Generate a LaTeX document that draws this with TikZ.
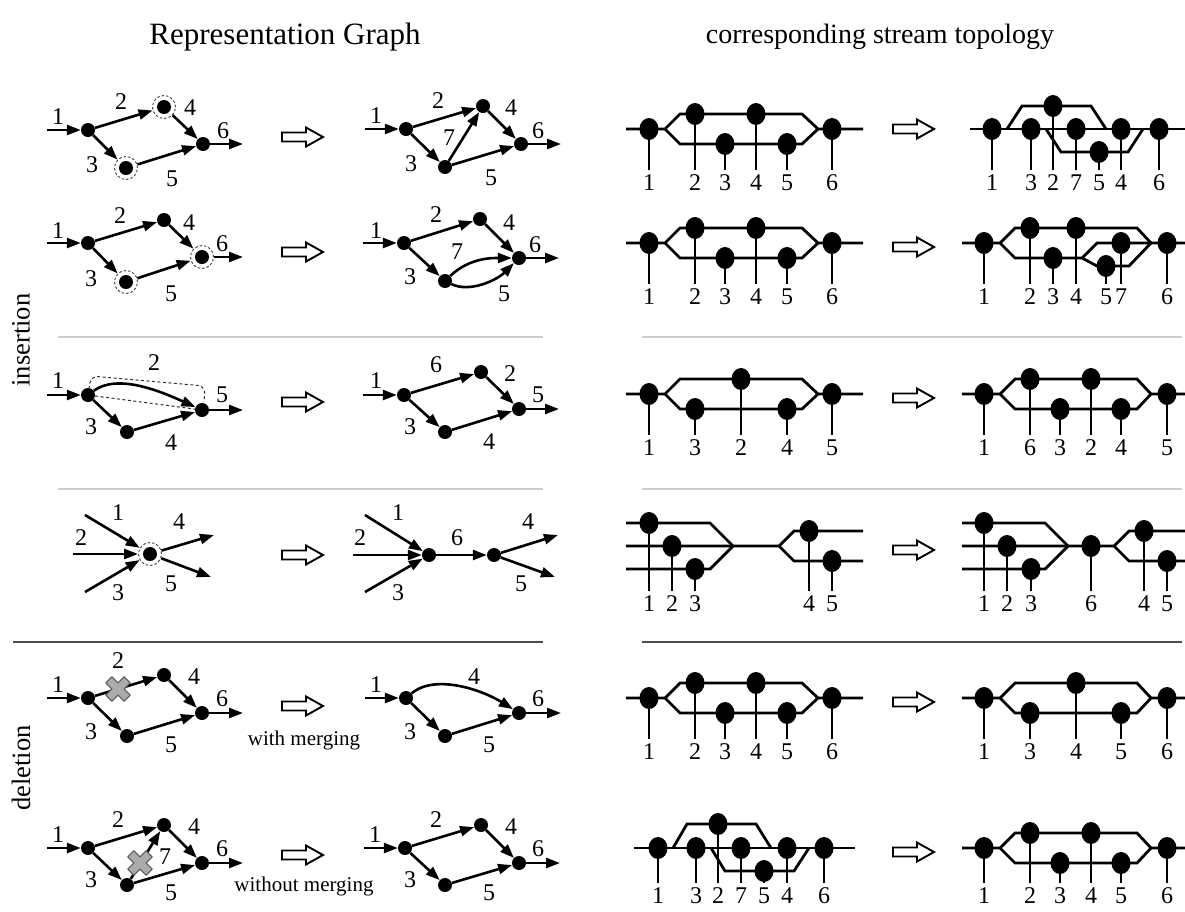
\documentclass[tikz,border=0pt]{standalone}
\usepackage{fontspec}
\setmainfont{Liberation Serif}
\usetikzlibrary{arrows.meta,shapes.geometric}
\tikzset{
 gn/.style={circle,fill=black,inner sep=0pt,minimum size=14pt},
 dc/.style={circle,draw=black!75,dash pattern=on 2.5pt off 2pt,line width=0.9pt,minimum size=23pt,inner sep=0pt},
 ge/.style={line width=2.6pt,-{Triangle[length=14pt,width=10pt]}},
 gl/.style={font=\fontsize{24}{24}\selectfont,inner sep=0pt,text height=16pt,text depth=0pt},
 sn/.style={ellipse,fill=black,inner sep=0pt,minimum width=19pt,minimum height=22pt},
 strm/.style={line width=2.8pt},
 vl/.style={line width=1.2pt,shorten >=4pt},
 slab/.style={font=\fontsize{24}{24}\selectfont,inner sep=0pt,text height=16pt,text depth=0pt,anchor=north},
 hollow/.style={line width=1.9pt,line join=miter,fill=white},
 sepl/.style={line width=2pt,draw=black!20},
 sepd/.style={line width=1.6pt,draw=black!70},
 xm/.style={fill=black!33,draw=black!65,line width=1.1pt,line join=round},
 ttla/.style={font=\fontsize{31}{31}\selectfont},
 ttlb/.style={font=\fontsize{28}{28}\selectfont},
 side/.style={font=\fontsize{26.5}{26.5}\selectfont,rotate=90},
 note/.style={font=\fontsize{21}{21}\selectfont},
 dashln/.style={line width=1pt,dash pattern=on 3pt off 2.5pt,draw=black!80}
}
\newcommand\harr[2]{\draw[hollow,shift={(#1,#2)}] (-20,-4.5) -- (4,-4.5) -- (4,-9.5) -- (21,0) -- (4,9.5) -- (4,4.5) -- (-20,4.5) -- cycle;}
\newcommand\xmk[2]{\draw[xm,shift={(#1,#2)},rotate=45] (-4.3,-13) -- (4.3,-13) -- (4.3,-4.3) -- (13,-4.3) -- (13,4.3) -- (4.3,4.3) -- (4.3,13) -- (-4.3,13) -- (-4.3,4.3) -- (-13,4.3) -- (-13,-4.3) -- (-4.3,-4.3) -- cycle;}
% name, x, y, label, line-end y (label top sits 5pt lower)
\newcommand\snd[5]{\node[sn] (#1) at (#2,#3) {}; \node[slab] (#1l) at (#2,#5+5) {#4}; \draw[vl] (#1) -- (#1l);}
\begin{document}
\begin{tikzpicture}[x=1pt,y=-1pt]
\fill[white] (0,0) rectangle (1185,911);
\path[use as bounding box] (0,0) rectangle (1185,911);

\node[ttla] (t1) at (285,37) {Representation Graph};
\node[ttlb] (t2) at (880,37) {corresponding stream topology};
\node[side] (s1) at (21,340) {insertion};
\node[side] (s2) at (21,768) {deletion};

\draw[sepl] (58,337) -- (543,337); \draw[sepl] (642,337) -- (1182,337);
\draw[sepl] (58,489) -- (543,489); \draw[sepl] (642,489) -- (1182,489);
\draw[sepd] (13,642) -- (543,642); \draw[sepd] (642,642) -- (1182,642);

\harr{302}{137} \harr{302}{252} \harr{302}{402} \harr{302}{555} \harr{302}{706} \harr{302}{855}
\harr{913}{129} \harr{913}{247} \harr{913}{398} \harr{913}{550} \harr{913}{702} \harr{913}{852}

% ---------- Row 1 left
\begin{scope}[shift={(88,130)},name prefix=ga-]
 \node[gn] (A) at (0,0) {};
 \node[gn] (B) at (76,-23) {}; \node[dc] (Bd) at (76,-23) {};
 \node[gn] (C) at (38,38) {}; \node[dc] (Cd) at (38,38) {};
 \node[gn] (D) at (115,14) {};
 \coordinate (in) at (-41,0); \coordinate (out) at (155,14);
 \draw[ge] (in) -- (A); \draw[ge] (A) -- (Bd); \draw[ge] (A) -- (Cd);
 \draw[ge] (Bd) -- (D); \draw[ge] (Cd) -- (D); \draw[ge] (D) -- (out);
 \node[gl] (l1) at (-30,-14) {1}; \node[gl] (l2) at (33,-29) {2};
 \node[gl] (l4) at (102,-23) {4}; \node[gl] (l3) at (4,34) {3};
 \node[gl] (l5) at (84,48) {5}; \node[gl] (l6) at (135,0) {6};
\end{scope}
% ---------- Row 1 right
\begin{scope}[shift={(406,129)},name prefix=gb-]
 \node[gn] (A) at (0,0) {}; \node[gn] (B) at (77,-23) {};
 \node[gn] (C) at (39,38) {}; \node[gn] (D) at (115,15) {};
 \coordinate (in) at (-41,0); \coordinate (out) at (155,15);
 \draw[ge] (in) -- (A); \draw[ge] (A) -- (B); \draw[ge] (A) -- (C);
 \draw[ge] (C) -- (B); \draw[ge] (C) -- (D); \draw[ge] (B) -- (D); \draw[ge] (D) -- (out);
 \node[gl] (l1) at (-30,-14) {1}; \node[gl] (l2) at (32,-29) {2};
 \node[gl] (l4) at (105,-22) {4}; \node[gl] (l3) at (5,34) {3};
 \node[gl] (l7) at (43,8) {7}; \node[gl] (l5) at (85,48) {5};
 \node[gl] (l6) at (132,1) {6};
\end{scope}
% ---------- Row 2 left
\begin{scope}[shift={(88,243)},name prefix=gc-]
 \node[gn] (A) at (0,0) {}; \node[gn] (B) at (76,-23) {};
 \node[gn] (C) at (38,39) {}; \node[dc] (Cd) at (38,39) {};
 \node[gn] (D) at (114,14) {}; \node[dc] (Dd) at (114,14) {};
 \coordinate (in) at (-41,0); \coordinate (out) at (155,14);
 \draw[ge] (in) -- (A); \draw[ge] (A) -- (B); \draw[ge] (A) -- (Cd);
 \draw[ge] (B) -- (Dd); \draw[ge] (Cd) -- (Dd); \draw[ge] (Dd) -- (out);
 \node[gl] (l1) at (-30,-13) {1}; \node[gl] (l2) at (32,-28) {2};
 \node[gl] (l4) at (101,-21) {4}; \node[gl] (l3) at (3,35) {3};
 \node[gl] (l5) at (83,50) {5}; \node[gl] (l6) at (134,0) {6};
\end{scope}
% ---------- Row 2 right
\begin{scope}[shift={(404,243)},name prefix=gd-]
 \node[gn] (A) at (0,0) {}; \node[gn] (B) at (76,-24) {};
 \node[gn] (C) at (41,38) {}; \node[gn] (D) at (115,15) {};
 \coordinate (in) at (-41,0); \coordinate (out) at (155,15);
 \draw[ge] (in) -- (A); \draw[ge] (A) -- (B); \draw[ge] (A) -- (C);
 \draw[ge] (B) -- (D);
 \draw[ge] (C) .. controls +(25,-24) and +(-25,0) .. (D);
 \draw[ge] (C) .. controls +(25,12) and +(-22,22) .. (D);
 \draw[ge] (D) -- (out);
 \node[gl] (l1) at (-28,-13) {1}; \node[gl] (l2) at (32,-29) {2};
 \node[gl] (l4) at (105,-21) {4}; \node[gl] (l3) at (6,33) {3};
 \node[gl] (l7) at (53,8) {7}; \node[gl] (l5) at (100,50) {5};
 \node[gl] (l6) at (131,1) {6};
\end{scope}
% ---------- Row 3 left
\begin{scope}[shift={(88,395)},name prefix=ge-]
 \node[gn] (A) at (0,0) {}; \node[gn] (C) at (39,37) {}; \node[gn] (D) at (114,15) {};
 \coordinate (in) at (-41,0); \coordinate (out) at (155,15);
 \draw[dashln,rounded corners=7pt] (1,-6) -- (3,-19) -- (117,-9) -- (116,7);
 \draw[dashln] (A) -- (D);
 \draw[ge] (in) -- (A); \draw[ge] (A) -- (C); \draw[ge] (C) -- (D); \draw[ge] (D) -- (out);
 \draw[ge] (A) .. controls +(30,-22) and +(-40,-18) .. (D);
 \node[gl] (l1) at (-30,-15) {1}; \node[gl] (l2) at (66,-33) {2};
 \node[gl] (l3) at (3,31) {3}; \node[gl] (l4) at (83,47) {4};
 \node[gl] (l5) at (134,-1) {5};
\end{scope}
% ---------- Row 3 right
\begin{scope}[shift={(404,395)},name prefix=gf-]
 \node[gn] (A) at (0,0) {}; \node[gn] (B) at (77,-23) {};
 \node[gn] (C) at (41,37) {}; \node[gn] (D) at (115,14) {};
 \coordinate (in) at (-41,0); \coordinate (out) at (155,14);
 \draw[ge] (in) -- (A); \draw[ge] (A) -- (B); \draw[ge] (A) -- (C);
 \draw[ge] (B) -- (D); \draw[ge] (C) -- (D); \draw[ge] (D) -- (out);
 \node[gl] (l1) at (-28,-15) {1}; \node[gl] (l6) at (32,-31) {6};
 \node[gl] (l2) at (106,-22) {2}; \node[gl] (l3) at (6,31) {3};
 \node[gl] (l4) at (85,46) {4}; \node[gl] (l5) at (134,-1) {5};
\end{scope}
% ---------- Row 4 left
\begin{scope}[name prefix=gg-]
 \node[gn] (N) at (150,554) {}; \node[dc] (Nd) at (150,554) {};
 \coordinate (i1) at (85,515); \coordinate (i2) at (73,554); \coordinate (i3) at (85,592);
 \coordinate (o4) at (214,535); \coordinate (o5) at (211,577);
 \draw[ge] (i1) -- (Nd); \draw[ge] (i2) -- (Nd); \draw[ge] (i3) -- (Nd);
 \draw[ge] (Nd) -- (o4); \draw[ge] (Nd) -- (o5);
 \node[gl] (l1) at (118,512) {1}; \node[gl] (l2) at (81,537) {2};
 \node[gl] (l3) at (118,592) {3}; \node[gl] (l4) at (179,521) {4};
 \node[gl] (l5) at (171,583) {5};
\end{scope}
% ---------- Row 4 right
\begin{scope}[name prefix=gh-]
 \node[gn] (N1) at (429,555) {}; \node[gn] (N2) at (494,555) {};
 \coordinate (i1) at (365,515); \coordinate (i2) at (353,555); \coordinate (i3) at (365,592);
 \coordinate (o4) at (558,535); \coordinate (o5) at (555,577);
 \draw[ge] (i1) -- (N1); \draw[ge] (i2) -- (N1); \draw[ge] (i3) -- (N1);
 \draw[ge] (N1) -- (N2);
 \draw[ge] (N2) -- (o4); \draw[ge] (N2) -- (o5);
 \node[gl] (l1) at (398,512) {1}; \node[gl] (l2) at (360,537) {2};
 \node[gl] (l3) at (398,592) {3}; \node[gl] (l6) at (457,537) {6};
 \node[gl] (l4) at (528,521) {4}; \node[gl] (l5) at (521,583) {5};
\end{scope}
% ---------- Row 5 left
\begin{scope}[shift={(88,698)},name prefix=gi-]
 \node[gn] (A) at (0,0) {}; \node[gn] (B) at (76,-23) {};
 \node[gn] (C) at (39,38) {}; \node[gn] (D) at (114,15) {};
 \coordinate (in) at (-41,0); \coordinate (out) at (155,15);
 \draw[ge] (in) -- (A); \draw[ge] (A) -- (B); \draw[ge] (A) -- (C);
 \draw[ge] (B) -- (D); \draw[ge] (C) -- (D); \draw[ge] (D) -- (out);
 \xmk{30}{-9}
 \node[gl] (l1) at (-30,-14) {1}; \node[gl] (l2) at (30,-38) {2};
 \node[gl] (l4) at (106,-22) {4}; \node[gl] (l3) at (3,33) {3};
 \node[gl] (l5) at (83,46) {5}; \node[gl] (l6) at (134,0) {6};
\end{scope}
\node[note] (wm) at (304,740) {with merging};
% ---------- Row 5 right
\begin{scope}[shift={(406,698)},name prefix=gj-]
 \node[gn] (A) at (0,0) {}; \node[gn] (C) at (39,38) {}; \node[gn] (D) at (113,15) {};
 \coordinate (in) at (-41,0); \coordinate (out) at (155,15);
 \draw[ge] (in) -- (A); \draw[ge] (A) -- (C); \draw[ge] (C) -- (D); \draw[ge] (D) -- (out);
 \draw[ge] (A) .. controls +(30,-25) and +(-35,-22) .. (D);
 \node[gl] (l1) at (-30,-14) {1}; \node[gl] (l4) at (68,-22) {4};
 \node[gl] (l3) at (4,33) {3}; \node[gl] (l5) at (83,46) {5};
 \node[gl] (l6) at (132,0) {6};
\end{scope}
% ---------- Row 6 left
\begin{scope}[shift={(88,848)},name prefix=gk-]
 \node[gn] (A) at (0,0) {}; \node[gn] (B) at (76,-23) {};
 \node[gn] (C) at (39,37) {}; \node[gn] (D) at (114,15) {};
 \coordinate (in) at (-41,0); \coordinate (out) at (155,15);
 \draw[ge] (in) -- (A); \draw[ge] (A) -- (B); \draw[ge] (A) -- (C);
 \draw[ge] (C) -- (B); \draw[ge] (B) -- (D); \draw[ge] (C) -- (D); \draw[ge] (D) -- (out);
 \xmk{52}{15}
 \node[gl] (l1) at (-30,-14) {1}; \node[gl] (l2) at (30,-29) {2};
 \node[gl] (l4) at (106,-22) {4}; \node[gl] (l3) at (3,31) {3};
 \node[gl] (l7) at (77,8) {7}; \node[gl] (l5) at (83,44) {5};
 \node[gl] (l6) at (134,0) {6};
\end{scope}
\node[note] (wom) at (304,886) {without merging};
% ---------- Row 6 right
\begin{scope}[shift={(405,848)},name prefix=gl-]
 \node[gn] (A) at (0,0) {}; \node[gn] (B) at (76,-23) {};
 \node[gn] (C) at (40,37) {}; \node[gn] (D) at (114,15) {};
 \coordinate (in) at (-41,0); \coordinate (out) at (155,15);
 \draw[ge] (in) -- (A); \draw[ge] (A) -- (B); \draw[ge] (A) -- (C);
 \draw[ge] (B) -- (D); \draw[ge] (C) -- (D); \draw[ge] (D) -- (out);
 \node[gl] (l1) at (-30,-14) {1}; \node[gl] (l2) at (31,-29) {2};
 \node[gl] (l4) at (106,-22) {4}; \node[gl] (l3) at (5,31) {3};
 \node[gl] (l5) at (84,44) {5}; \node[gl] (l6) at (133,0) {6};
\end{scope}

% ================= STREAM TOPOLOGIES
% Row 1 left
\draw[strm] (626,129) -- (665,129) -- (680,114) -- (802,114) -- (818,129) -- (863,129);
\draw[strm] (665,129) -- (680,144) -- (802,144) -- (818,129);
\snd{sa1}{649}{129}{1}{169} \snd{sa2}{695}{114}{2}{169} \snd{sa3}{725}{144}{3}{169}
\snd{sa4}{756}{114}{4}{169} \snd{sa5}{787}{144}{5}{169} \snd{sa6}{832}{129}{6}{169}
% Row 1 right
\draw[strm] (970,129) -- (1185,129);
\draw[strm] (1007,129) -- (1022,106) -- (1091,106) -- (1106,129);
\draw[strm] (1046,129) -- (1061,152) -- (1128,152) -- (1143,129);
\snd{sb1}{992}{129}{1}{169} \snd{sb3}{1031}{129}{3}{169} \snd{sb2}{1053}{106}{2}{169}
\snd{sb7}{1076}{129}{7}{169} \snd{sb5}{1099}{152}{5}{169} \snd{sb4}{1121}{129}{4}{169}
\snd{sb6}{1159}{129}{6}{169}
% Row 2 left
\draw[strm] (626,243) -- (665,243) -- (680,228) -- (802,228) -- (818,243) -- (863,243);
\draw[strm] (665,243) -- (680,258) -- (802,258) -- (818,243);
\snd{sc1}{649}{243}{1}{283} \snd{sc2}{695}{228}{2}{283} \snd{sc3}{725}{258}{3}{283}
\snd{sc4}{756}{228}{4}{283} \snd{sc5}{787}{258}{5}{283} \snd{sc6}{832}{243}{6}{283}
% Row 2 right
\draw[strm] (962,243) -- (1000,243) -- (1015,228) -- (1137,228) -- (1151,243) -- (1185,243);
\draw[strm] (1000,243) -- (1015,258) -- (1082,258) -- (1097,243) -- (1151,243);
\draw[strm] (1082,258) -- (1097,266) -- (1129,266) -- (1151,243);
\snd{sd1}{984}{243}{1}{283} \snd{sd2}{1030}{228}{2}{283} \snd{sd3}{1053}{258}{3}{283}
\snd{sd4}{1076}{228}{4}{283} \snd{sd5}{1106}{266}{5}{283} \snd{sd7}{1121}{243}{7}{283}
\snd{sd6}{1167}{243}{6}{283}
% Row 3 left
\draw[strm] (626,394) -- (665,394) -- (680,379) -- (802,379) -- (818,394) -- (863,394);
\draw[strm] (665,394) -- (680,409) -- (802,409) -- (818,394);
\snd{se1}{649}{394}{1}{434} \snd{se3}{695}{409}{3}{434} \snd{se2}{741}{379}{2}{434}
\snd{se4}{787}{409}{4}{434} \snd{se5}{832}{394}{5}{434}
% Row 3 right
\draw[strm] (962,394) -- (1000,394) -- (1015,379) -- (1137,379) -- (1151,394) -- (1185,394);
\draw[strm] (1000,394) -- (1015,409) -- (1137,409) -- (1151,394);
\snd{sf1}{984}{394}{1}{434} \snd{sf6}{1030}{379}{6}{434} \snd{sf3}{1060}{409}{3}{434}
\snd{sf2}{1091}{379}{2}{434} \snd{sf4}{1121}{409}{4}{434} \snd{sf5}{1167}{394}{5}{434}
% Row 4 left
\draw[strm] (626,523) -- (710,523) -- (733,546);
\draw[strm] (626,546) -- (779,546) -- (794,531) -- (863,531);
\draw[strm] (626,569) -- (710,569) -- (733,546);
\draw[strm] (779,546) -- (794,561) -- (863,561);
\snd{sg1}{649}{523}{1}{590} \snd{sg2}{672}{546}{2}{590} \snd{sg3}{695}{569}{3}{590}
\snd{sg4}{809}{531}{4}{590} \snd{sg5}{832}{561}{5}{590}
% Row 4 right
\draw[strm] (962,523) -- (1045,523) -- (1068,546);
\draw[strm] (962,546) -- (1114,546) -- (1129,531) -- (1185,531);
\draw[strm] (962,569) -- (1045,569) -- (1068,546);
\draw[strm] (1114,546) -- (1129,561) -- (1185,561);
\snd{sh1}{984}{523}{1}{590} \snd{sh2}{1007}{546}{2}{590} \snd{sh3}{1031}{569}{3}{590}
\snd{sh6}{1091}{546}{6}{590} \snd{sh4}{1144}{531}{4}{590} \snd{sh5}{1167}{561}{5}{590}
% Row 5 left
\draw[strm] (626,698) -- (665,698) -- (680,683) -- (802,683) -- (818,698) -- (863,698);
\draw[strm] (665,698) -- (680,713) -- (802,713) -- (818,698);
\snd{si1}{649}{698}{1}{738} \snd{si2}{695}{683}{2}{738} \snd{si3}{725}{713}{3}{738}
\snd{si4}{756}{683}{4}{738} \snd{si5}{787}{713}{5}{738} \snd{si6}{832}{698}{6}{738}
% Row 5 right
\draw[strm] (962,698) -- (1000,698) -- (1015,683) -- (1137,683) -- (1151,698) -- (1185,698);
\draw[strm] (1000,698) -- (1015,713) -- (1137,713) -- (1151,698);
\snd{sj1}{984}{698}{1}{738} \snd{sj3}{1030}{713}{3}{738} \snd{sj4}{1076}{683}{4}{738}
\snd{sj5}{1121}{713}{5}{738} \snd{sj6}{1167}{698}{6}{738}
% Row 6 left
\draw[strm] (634,848) -- (855,848);
\draw[strm] (673,848) -- (687,824) -- (756,824) -- (771,848);
\draw[strm] (711,848) -- (725,871) -- (794,871) -- (809,848);
\snd{sk1}{658}{848}{1}{882} \snd{sk3}{696}{848}{3}{882} \snd{sk2}{718}{824}{2}{882}
\snd{sk7}{741}{848}{7}{882} \snd{sk5}{764}{871}{5}{882} \snd{sk4}{787}{848}{4}{882}
\snd{sk6}{824}{848}{6}{882}
% Row 6 right
\draw[strm] (962,848) -- (1000,848) -- (1015,833) -- (1137,833) -- (1151,848) -- (1185,848);
\draw[strm] (1000,848) -- (1015,863) -- (1137,863) -- (1151,848);
\snd{sl1}{984}{848}{1}{882} \snd{sl2}{1030}{833}{2}{882} \snd{sl3}{1060}{863}{3}{882}
\snd{sl4}{1091}{833}{4}{882} \snd{sl5}{1121}{863}{5}{882} \snd{sl6}{1167}{848}{6}{882}
\end{tikzpicture}
\end{document}
